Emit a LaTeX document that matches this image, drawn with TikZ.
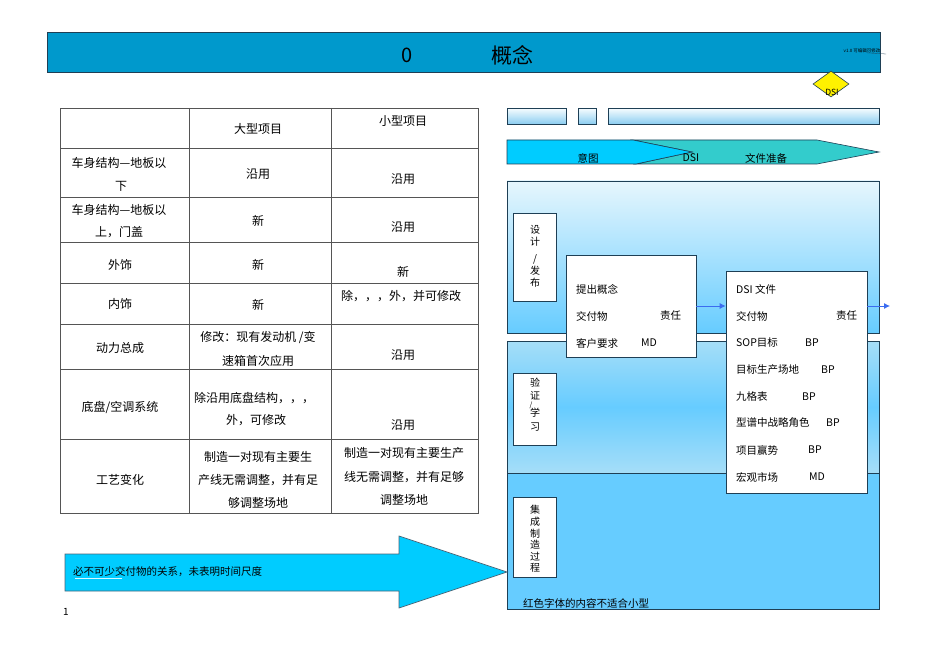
\documentclass[tikz,border=0pt]{standalone}
\usepackage{fontspec}
\setmainfont{Noto Sans CJK SC}
\usetikzlibrary{shapes.geometric,arrows.meta,calc}
\definecolor{titleblue}{HTML}{0099CC}
\definecolor{edge}{HTML}{1E3F55}
\definecolor{cyanA}{HTML}{00CCFF}
\definecolor{tealA}{HTML}{33CCCC}
\definecolor{skyA}{HTML}{66CCFF}
\definecolor{paleA}{HTML}{E6F6FD}
\definecolor{paleB}{HTML}{A6DEF8}
\definecolor{barB}{HTML}{8CCDF0}
\definecolor{arrowblue}{HTML}{3B6CF0}
\definecolor{gridgray}{HTML}{555555}
\tikzset{
  tbl/.style={font=\fontsize{12}{14}\selectfont, inner sep=0pt, align=center},
  ptxt/.style={font=\fontsize{10.5}{12}\selectfont, inner sep=0pt, anchor=west},
  lbl/.style={font=\fontsize{10}{11.6}\selectfont, inner sep=0pt, align=center},
  vch/.style={font=\fontsize{10}{11}\selectfont, inner sep=0pt},
  whitebox/.style={draw=edge, fill=white, line width=0.7pt, inner sep=0pt},
  flow/.style={draw=arrowblue, line width=0.8pt, -{Latex[length=6pt,width=6pt]}},
  barbox/.style={top color=white!70!paleA, bottom color=barB, middle color=paleA!60!barB, draw=edge, line width=0.6pt},
}
\begin{document}
\begin{tikzpicture}[x=1pt,y=-1pt]
\useasboundingbox (0,0) rectangle (950,671);
\fill[white] (0,0) rectangle (950,671);

% title bar
\node[draw=edge, fill=titleblue, line width=0.7pt, minimum width=833pt, minimum height=40pt, inner sep=0pt] (title) at (463.5,52) {};
\node[font=\fontsize{20}{22}\selectfont, inner sep=0pt] (t0) at (407,55) {0};
\node[font=\fontsize{21}{23}\selectfont, inner sep=0pt] (tgn) at (512,55) {概念};
\node[font=\fontsize{4.5}{5}\selectfont, inner sep=0pt] (ver) at (862,51) {v1.0 可编辑可修改};
\coordinate (verR) at (886,54);
\draw[line width=0.3pt, edge] (ver.south east) ++(-14pt,0.5pt) -- (verR);

% DSI diamond
\node[diamond, draw=edge, fill=yellow, line width=0.6pt, minimum width=36pt, minimum height=26pt, inner sep=0pt] (dsid) at (831,84) {};
\node[font=\fontsize{8.5}{9}\selectfont, inner sep=0pt] (dsit) at (832,92) {DSI};

% table
\draw[gridgray, line width=0.6pt] (60,108) rectangle (478,513);
\foreach \yy in {148,197,242,283,324,369,439} \draw[gridgray, line width=0.6pt] (60,\yy) -- (478,\yy);
\foreach \xx in {189,331} \draw[gridgray, line width=0.6pt] (\xx,108) -- (\xx,513);

\node[tbl] (h1) at (258,129) {大型项目};
\node[tbl] (h2) at (403,121) {小型项目};

\node[tbl] (r1a) at (119,163) {车身结构—地板以};
\node[tbl] (r1b) at (121,186) {下};
\node[tbl] (r1c) at (258,174) {沿用};
\node[tbl] (r1d) at (403,179) {沿用};

\node[tbl] (r2a) at (119,210) {车身结构—地板以};
\node[tbl] (r2b) at (119,232) {上，门盖};
\node[tbl] (r2c) at (258,221) {新};
\node[tbl] (r2d) at (403,227) {沿用};

\node[tbl] (r3a) at (120,265) {外饰};
\node[tbl] (r3c) at (258,265) {新};
\node[tbl] (r3d) at (403,272) {新};

\node[tbl] (r4a) at (120,304) {内饰};
\node[tbl] (r4c) at (258,305) {新};
\node[tbl] (r4d) at (401,296) {除，，，外，并可修改};

\node[tbl] (r5a) at (120,348) {动力总成};
\node[tbl] (r5c) at (258,337) {修改：现有发动机 /变};
\node[tbl] (r5e) at (258,361) {速箱首次应用};
\node[tbl] (r5d) at (403,355) {沿用};

\node[tbl] (r6a) at (120,407) {底盘/空调系统};
\node[tbl] (r6c) at (254,398) {除沿用底盘结构，，，};
\node[tbl] (r6e) at (256,420) {外，可修改};
\node[tbl] (r6d) at (403,425) {沿用};

\node[tbl] (r7a) at (120,480) {工艺变化};
\node[tbl] (r7c) at (258,457) {制造一对现有主要生};
\node[tbl] (r7e) at (258,480) {产线无需调整，并有足};
\node[tbl] (r7f) at (258,503) {够调整场地};
\node[tbl] (r7d) at (404,453) {制造一对现有主要生产};
\node[tbl] (r7g) at (404,477) {线无需调整，并有足够};
\node[tbl] (r7h) at (404,500) {调整场地};

% top bars
\shade[barbox] (507,108) rectangle (566,124);
\shade[barbox] (578,108) rectangle (596,124);
\shade[barbox] (608,108) rectangle (879,124);

% chevrons
\filldraw[fill=tealA, draw=edge, line width=0.6pt] (633,140) -- (817,140) -- (879,152) -- (817,164) -- (636,164) -- (692,152) -- cycle;
\filldraw[fill=cyanA, draw=edge, line width=0.6pt] (507,140) -- (633,140) -- (692,152) -- (636,164) -- (507,164) -- cycle;
\node[font=\fontsize{10.5}{12}\selectfont, inner sep=0pt] (c1) at (588,158) {意图};
\node[font=\fontsize{10.5}{12}\selectfont, inner sep=0pt] (c2) at (691,158) {DSI};
\node[font=\fontsize{10.5}{12}\selectfont, inner sep=0pt] (c3) at (766,158) {文件准备};

% bands
\shade[top color=paleA, bottom color=skyA, draw=edge, line width=0.7pt] (507,181) rectangle (879,333);
\shade[top color=paleB, bottom color=paleB, middle color=skyA, draw=edge, line width=0.7pt] (507,341) rectangle (879,473);
\filldraw[fill=skyA, draw=edge, line width=0.7pt] (507,473) rectangle (879,609);

% label boxes
\node[whitebox, minimum width=43pt, minimum height=88pt] (lb1) at (534.5,257.5) {};
\node[vch] (lb1a) at (535,230) {设};
\node[vch] (lb1b) at (535,242) {计};
\node[vch] (lb1c) at (535,259) {/};
\node[vch] (lb1d) at (535,271) {发};
\node[vch] (lb1e) at (535,283) {布};

\node[whitebox, minimum width=43pt, minimum height=72pt] (lb2) at (534.5,409) {};
\node[vch] (lb2a) at (535,383) {验};
\node[vch] (lb2b) at (535,396) {证};
\node[font=\fontsize{7}{8}\selectfont, inner sep=0pt] (lb2s) at (531,405) {/};
\node[vch] (lb2c) at (535,413) {学};
\node[vch] (lb2d) at (535,427) {习};

\node[whitebox, minimum width=43pt, minimum height=80pt] (lb3) at (534.5,537) {};
\node[lbl] (lb3t) at (535,539) {集\\成\\制\\造\\过\\程};

% content boxes
\node[whitebox, minimum width=130pt, minimum height=102pt] (bx1) at (631,306) {};
\node[ptxt] (b1a) at (576,289) {提出概念};
\node[ptxt] (b1b) at (576,316) {交付物};
\node[ptxt] (b1c) at (660,316) {责任};
\node[ptxt] (b1d) at (576,343) {客户要求};
\node[ptxt] (b1e) at (641,343) {MD};

\node[whitebox, minimum width=141pt, minimum height=222pt] (bx2) at (796.5,382) {};
\node[ptxt] (b2a) at (736,289) {DSI 文件};
\node[ptxt] (b2b) at (736,316) {交付物};
\node[ptxt] (b2c) at (836,316) {责任};
\node[ptxt] (b2d) at (736,343) {SOP目标};
\node[ptxt] (b2e) at (805,343) {BP};
\node[ptxt] (b2f) at (736,370) {目标生产场地};
\node[ptxt] (b2g) at (821,370) {BP};
\node[ptxt] (b2h) at (736,397) {九格表};
\node[ptxt] (b2i) at (802,397) {BP};
\node[ptxt] (b2j) at (736,423) {型谱中战略角色};
\node[ptxt] (b2k) at (826,423) {BP};
\node[ptxt] (b2l) at (736,450) {项目赢势};
\node[ptxt] (b2m) at (808,450) {BP};
\node[ptxt] (b2n) at (736,477) {宏观市场};
\node[ptxt] (b2o) at (809,477) {MD};

% flow arrows
\coordinate (outR) at (890,306);
\draw[flow] (bx1.east) -- (bx1.east -| bx2.west);
\draw[flow] (bx1.east -| bx2.east) -- (outR);

% bottom note
\node[ptxt] (note) at (523,603) {红色字体的内容不适合小型};

% big arrow
\filldraw[fill=cyanA, draw=edge!80, line width=0.7pt] (65,554) -- (399,554) -- (399,536) -- (507,572) -- (399,608) -- (399,591) -- (65,591) -- cycle;
\node[ptxt, font=\fontsize{10.5}{12}\selectfont] (arw) at (73,572) {必不可少交付物的关系，未表明时间尺度};
\draw[white!85!cyanA, line width=0.8pt] (75,578) -- (122,578);

\node[font=\fontsize{10}{11}\selectfont, inner sep=0pt] (pg) at (66,612) {1};
\end{tikzpicture}
\end{document}
